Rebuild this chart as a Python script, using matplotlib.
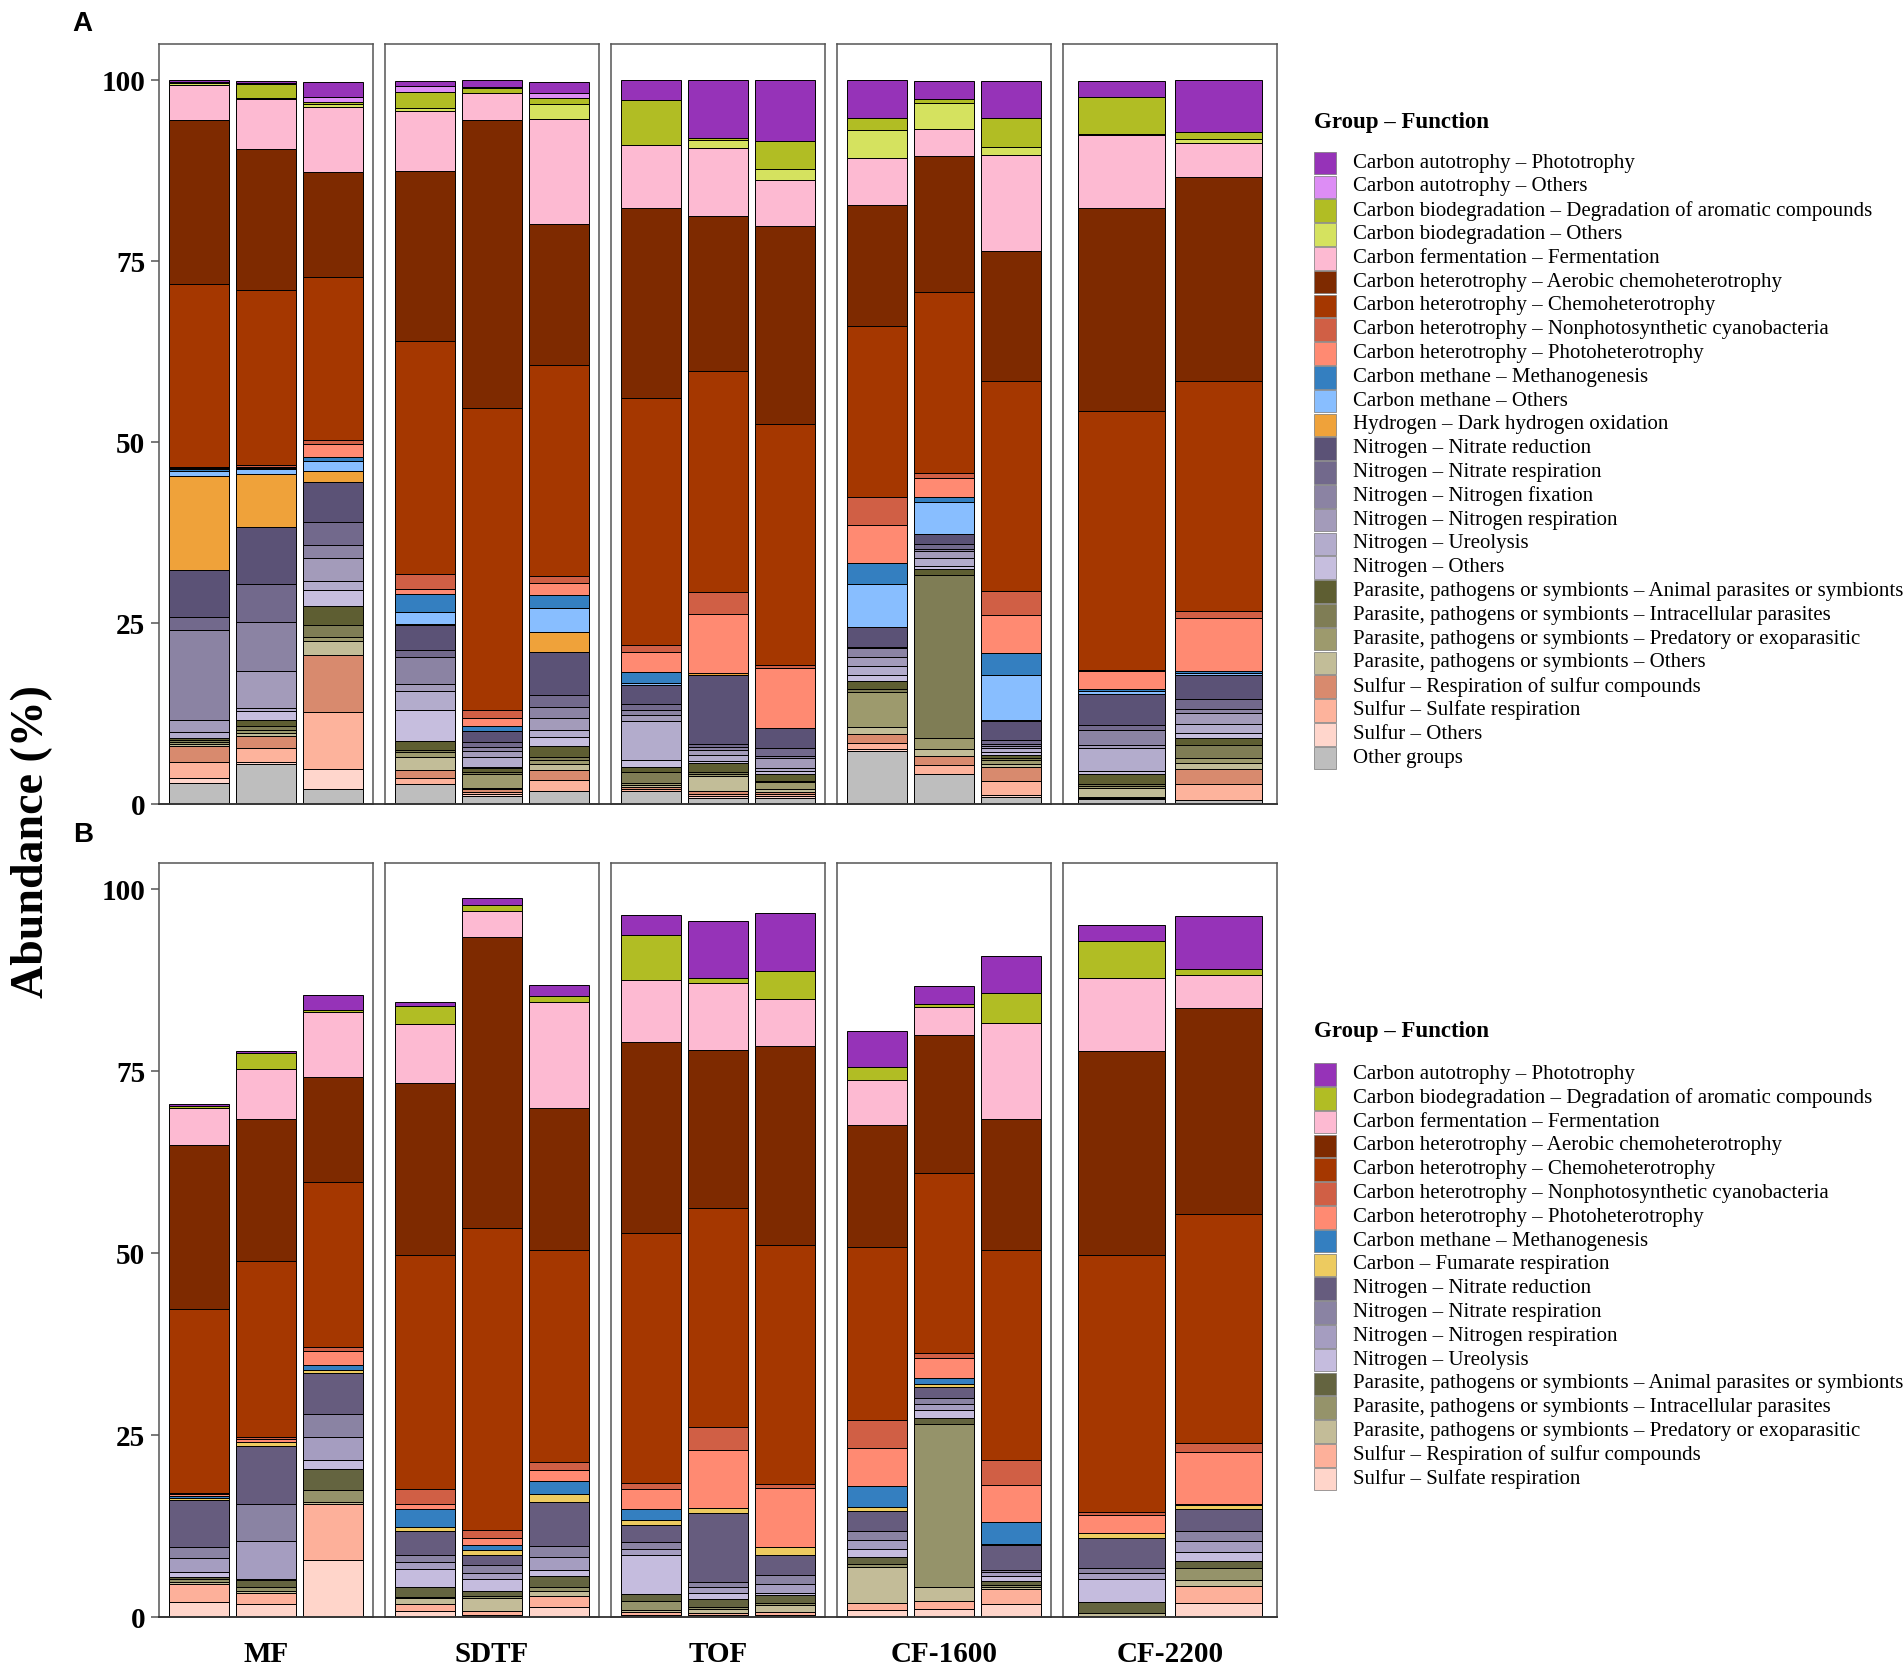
import matplotlib
matplotlib.use('Agg')
import matplotlib.pyplot as plt
from matplotlib.patches import Rectangle
from matplotlib.lines import Line2D
import numpy as np

plt.rcParams['font.family'] = ['Liberation Serif', 'DejaVu Serif']

groups = ['MF', 'SDTF', 'TOF', 'CF-1600', 'CF-2200']

labels_A = [
    "Carbon autotrophy – Phototrophy", "Carbon autotrophy – Others",
    "Carbon biodegradation – Degradation of aromatic compounds", "Carbon biodegradation – Others",
    "Carbon fermentation – Fermentation", "Carbon heterotrophy – Aerobic chemoheterotrophy",
    "Carbon heterotrophy – Chemoheterotrophy", "Carbon heterotrophy – Nonphotosynthetic cyanobacteria",
    "Carbon heterotrophy – Photoheterotrophy", "Carbon methane – Methanogenesis",
    "Carbon methane – Others", "Hydrogen – Dark hydrogen oxidation",
    "Nitrogen – Nitrate reduction", "Nitrogen – Nitrate respiration", "Nitrogen – Nitrogen fixation",
    "Nitrogen – Nitrogen respiration", "Nitrogen – Ureolysis", "Nitrogen – Others",
    "Parasite, pathogens or symbionts – Animal parasites or symbionts",
    "Parasite, pathogens or symbionts – Intracellular parasites",
    "Parasite, pathogens or symbionts – Predatory or exoparasitic",
    "Parasite, pathogens or symbionts – Others",
    "Sulfur – Respiration of sulfur compounds", "Sulfur – Sulfate respiration", "Sulfur – Others",
    "Other groups"]
colors_A = ['#9633B8', '#DD8DF5', '#B1BD24', '#D5E25F', '#FDBAD2', '#7E2A00', '#A53700', '#D05F45',
            '#FF8A72', '#347FC0', '#88BEFF', '#EFA23A', '#5B5276', '#72698C', '#8B83A3', '#A39BBA',
            '#B3ACCC', '#C6BEDE', '#5E5E32', '#7F7D55', '#9D9A6D', '#C2BD98', '#D88A6E', '#FDB39C',
            '#FFD6CC', '#BEBEBE']

labels_B = [
    "Carbon autotrophy – Phototrophy", "Carbon biodegradation – Degradation of aromatic compounds",
    "Carbon fermentation – Fermentation", "Carbon heterotrophy – Aerobic chemoheterotrophy",
    "Carbon heterotrophy – Chemoheterotrophy", "Carbon heterotrophy – Nonphotosynthetic cyanobacteria",
    "Carbon heterotrophy – Photoheterotrophy", "Carbon methane – Methanogenesis",
    "Carbon – Fumarate respiration", "Nitrogen – Nitrate reduction", "Nitrogen – Nitrate respiration",
    "Nitrogen – Nitrogen respiration", "Nitrogen – Ureolysis",
    "Parasite, pathogens or symbionts – Animal parasites or symbionts",
    "Parasite, pathogens or symbionts – Intracellular parasites",
    "Parasite, pathogens or symbionts – Predatory or exoparasitic",
    "Sulfur – Respiration of sulfur compounds", "Sulfur – Sulfate respiration"]
colors_B = ['#9633B8', '#B1BD24', '#FDBAD2', '#7E2A00', '#A53700', '#D05F45', '#FF8A72', '#347FC0',
            '#EDCB60', '#665C7E', '#8A83A3', '#A59DC0', '#C5BCDE', '#646440', '#95936A', '#C3BC98',
            '#FDB09A', '#FFD5CA']

# Panel A values (legend order, top of legend first)
A_MF1 = [0.2, 0, 0.2, 0.2, 4.9, 22.7, 25.2, 0.1, 0.2, 0.2, 0.8, 12.9, 6.5, 1.8, 12.4, 1.7, 0.8, 0, 0.3, 0.3, 0.3, 0.2, 2.3, 2.2, 0.7, 2.9]
A_MF2 = [0.3, 0.1, 2.0, 0.2, 6.8, 19.5, 24.2, 0.2, 0.2, 0.2, 0.6, 7.3, 7.9, 5.3, 6.7, 5.2, 0.3, 1.3, 0.9, 0.45, 0.45, 0.45, 1.6, 1.9, 0.3, 5.6]
A_MF3 = [2.0, 0.7, 0.3, 0.5, 8.9, 14.5, 22.6, 0.5, 1.8, 0.5, 1.4, 1.5, 5.6, 3.2, 1.7, 3.2, 1.25, 2.2, 2.7, 1.6, 0.5, 2.0, 7.8, 7.9, 2.8, 2.1]
A_SDTF1 = [0.7, 0.8, 2.3, 0.4, 8.3, 23.4, 32.3, 2.0, 0.7, 2.5, 1.6, 0.2, 3.4, 1.0, 3.7, 1.0, 2.6, 4.3, 1.3, 0.2, 0.7, 1.85, 1.0, 0.9, 0, 2.8]
A_SDTF2 = [0.9, 0.2, 0.7, 0, 3.7, 39.8, 41.7, 1.1, 1.15, 0.65, 0, 0, 1.5, 0.7, 0.6, 0.7, 1.4, 0.2, 0.6, 0.2, 2.0, 0.1, 0.4, 0.3, 0.2, 1.2]
A_SDTF3 = [1.55, 0.7, 0.8, 2.1, 14.5, 19.5, 29.1, 1.05, 1.6, 1.75, 3.3, 2.8, 5.9, 1.75, 1.5, 1.6, 1.0, 1.3, 1.5, 0.45, 0.55, 0.7, 1.5, 1.4, 0.1, 1.8]
A_TOF1 = [2.7, 0, 6.3, 0, 8.6, 26.3, 34.1, 0.9, 2.8, 1.5, 0.35, 0, 2.55, 0.9, 0.7, 0.8, 5.4, 0.9, 0.8, 1.4, 0.3, 0.3, 0.25, 0.3, 0, 1.85]
A_TOF2 = [7.9, 0, 0.4, 1.1, 9.3, 21.5, 30.5, 3.05, 8.05, 0, 0, 0.35, 9.5, 0.45, 0.45, 0.7, 0.8, 0.3, 1.2, 0.3, 0.2, 2.1, 0.45, 0.25, 0.3, 0.85]
A_TOF3 = [8.4, 0, 3.9, 1.45, 6.4, 27.3, 33.3, 0.45, 8.2, 0, 0, 0, 2.8, 1.15, 0.3, 1.3, 0.45, 0.45, 0.9, 0.2, 0.9, 0.45, 0.3, 0.3, 0.25, 0.85]
A_CF16_1 = [5.3, 0, 1.55, 4.0, 6.4, 16.7, 23.6, 3.9, 5.3, 2.9, 5.9, 0, 2.8, 0.1, 1.3, 1.15, 1.25, 0.85, 1.15, 0.45, 4.8, 1.0, 1.15, 0.9, 0.3, 7.3]
A_CF16_2 = [2.6, 0, 0.45, 3.6, 3.7, 18.9, 25.0, 0.65, 2.6, 0.7, 4.35, 0, 1.5, 0.7, 0.25, 0.9, 1.15, 0.35, 0.9, 22.5, 1.5, 1.0, 1.2, 1.25, 0, 4.2]
A_CF16_3 = [5.1, 0, 4.05, 1.1, 13.3, 17.9, 29.05, 3.3, 5.2, 3.1, 6.2, 0.2, 2.6, 0.5, 0.3, 0.3, 0.55, 0.35, 0.45, 0.35, 0.45, 0.4, 2.0, 1.85, 0.35, 1.0]
A_CF22_1 = [2.2, 0, 5.1, 0.25, 10.1, 28.0, 35.7, 0.25, 2.45, 0.3, 0.4, 0, 4.3, 0.6, 2.1, 0.45, 3.2, 0.3, 1.5, 0.25, 0.3, 1.2, 0.15, 0.15, 0, 0.7]
A_CF22_2 = [7.2, 0, 0.95, 0.55, 4.7, 28.2, 31.65, 1.0, 7.3, 0.35, 0.3, 0, 3.25, 1.4, 0.55, 1.45, 1.25, 0.7, 1.0, 1.75, 0.8, 0.8, 2.1, 2.2, 0, 0.55]

# Panel B values (legend order, top of legend first)
B_MF1 = [0.2, 0.3, 5.1, 22.6, 25.25, 0.15, 0.3, 0.2, 0.3, 6.4, 1.6, 1.9, 0.7, 0.25, 0.45, 0.3, 2.4, 2.1]
B_MF2 = [0.3, 2.2, 6.9, 19.5, 24.2, 0.25, 0.35, 0, 0.55, 8.0, 5.1, 5.15, 0.2, 0.9, 0.55, 0.3, 1.6, 1.75]
B_MF3 = [2.0, 0.3, 9.0, 14.4, 22.7, 0.5, 1.9, 0.7, 0.45, 5.7, 3.1, 3.2, 1.25, 2.8, 1.65, 0.3, 7.75, 7.8]
B_SDTF1 = [0.55, 2.5, 8.1, 23.6, 32.2, 2.05, 0.7, 2.5, 0.45, 3.35, 1.0, 0.9, 2.5, 1.35, 0.15, 0.8, 0.95, 0.9]
B_SDTF2 = [1.0, 0.8, 3.6, 39.9, 41.55, 1.05, 1.0, 0.7, 0.7, 1.4, 1.0, 0.9, 1.6, 0.75, 0.25, 1.8, 0.45, 0.35]
B_SDTF3 = [1.55, 0.7, 14.6, 19.6, 29.1, 1.05, 1.5, 1.8, 1.15, 6.0, 1.6, 1.7, 0.9, 1.5, 0.45, 0.8, 1.45, 1.4]
B_TOF1 = [2.7, 6.25, 8.5, 26.2, 34.4, 0.8, 2.75, 1.45, 0.7, 2.4, 0.9, 0.9, 5.35, 0.95, 1.25, 0.3, 0.35, 0.3]
B_TOF2 = [7.8, 0.7, 9.3, 21.65, 30.1, 3.2, 8.0, 0, 0.6, 9.55, 0.7, 0.85, 0.7, 1.2, 0.3, 0.5, 0.3, 0.25]
B_TOF3 = [7.95, 3.95, 6.4, 27.4, 32.8, 0.55, 8.1, 0, 1.15, 2.75, 1.2, 1.3, 0.2, 1.15, 0.25, 1.0, 0.35, 0.3]
B_CF16_1 = [5.05, 1.7, 6.25, 16.8, 23.65, 3.85, 5.3, 2.9, 0.45, 2.75, 1.3, 1.3, 1.05, 0.9, 0.45, 4.9, 1.05, 0.95]
B_CF16_2 = [2.6, 0.4, 3.85, 18.95, 24.75, 0.6, 2.75, 0.8, 0.45, 1.5, 0.8, 0.9, 1.05, 0.8, 22.45, 1.95, 1.15, 1.05]
B_CF16_3 = [5.1, 4.1, 13.3, 17.9, 28.95, 3.35, 5.15, 2.95, 0.2, 3.4, 0.35, 0.55, 0.7, 0.5, 0.3, 0.3, 1.95, 1.85]
B_CF22_1 = [2.25, 5.0, 10.05, 28.1, 35.25, 0.45, 2.4, 0, 0.7, 4.1, 0.8, 0.7, 3.2, 1.5, 0.1, 0.3, 0.1, 0.1]
B_CF22_2 = [7.2, 0.8, 4.6, 28.3, 31.5, 1.15, 7.15, 0.2, 0.5, 3.05, 1.45, 1.4, 1.3, 0.95, 1.7, 0.8, 2.25, 2.0]

samples_A = [[A_MF1, A_MF2, A_MF3], [A_SDTF1, A_SDTF2, A_SDTF3], [A_TOF1, A_TOF2, A_TOF3],
             [A_CF16_1, A_CF16_2, A_CF16_3], [A_CF22_1, A_CF22_2]]
samples_B = [[B_MF1, B_MF2, B_MF3], [B_SDTF1, B_SDTF2, B_SDTF3], [B_TOF1, B_TOF2, B_TOF3],
             [B_CF16_1, B_CF16_2, B_CF16_3], [B_CF22_1, B_CF22_2]]
yticks = [0, 25, 50, 75, 100]

W, H = 1565.0, 1370.0  # layout reference units
fig = plt.figure(figsize=(19.04, 16.67), dpi=100)

left = 131 / W
fw = 175.5 / W
gap = 10.2 / W


def draw_panel(y0, h, ytop, samples, colors):
    axes = []
    for gi, ss in enumerate(samples):
        ax = fig.add_axes([left + gi * (fw + gap), y0, fw, h])
        n = len(ss)
        vals = np.array(ss, dtype=float)
        x = np.arange(1, n + 1)
        bottom = np.zeros(n)
        for k in range(vals.shape[1] - 1, -1, -1):
            v = vals[:, k]
            lw = np.where(v > 0, 0.7, 0.0)
            ax.bar(x, v, 0.9, bottom=bottom, color=colors[k], edgecolor='black', linewidth=lw)
            bottom += v
        ax.set_xlim(0.4, n + 0.6)
        ax.set_ylim(0, ytop)
        ax.set_xticks([])
        for s in ax.spines.values():
            s.set_color('#555555')
            s.set_linewidth(1.1)
        if gi == 0:
            ax.set_yticks(yticks)
            ax.set_yticklabels([str(t) for t in yticks], fontsize=21, fontweight='bold')
            ax.tick_params(axis='y', length=6, width=1.1, color='#555555', pad=4)
        else:
            ax.set_yticks([])
        axes.append(ax)
    fig.add_artist(Line2D([left, left + 5 * fw + 4 * gap], [y0, y0], transform=fig.transFigure,
                          color='#333333', lw=1.3))
    return axes


yA0 = 1 - 661 / H
hA = 105 * 5.95 / H
yB0 = 1 - 1329 / H
hB = 103.7 * 5.98 / H
draw_panel(yA0, hA, 105, samples_A, colors_A)
draw_panel(yB0, hB, 103.7, samples_B, colors_B)

for gi, g in enumerate(groups):
    fig.text(left + gi * (fw + gap) + fw / 2, 1 - 1360 / H, g, ha='center', va='center',
             fontsize=21, fontweight='bold')

fig.text(68 / W, 1 - 20 / H, 'A', fontsize=20, fontweight='bold', family='Liberation Sans',
         ha='center', va='center')
fig.text(68 / W, 1 - 686 / H, 'B', fontsize=20, fontweight='bold', family='Liberation Sans',
         ha='center', va='center')
fig.text(26 / W, 1 - 692 / H, 'Abundance (%)', fontsize=33, fontweight='bold', rotation=90,
         ha='center', va='center')


def draw_legend(title_y, first_y, labels, colors):
    fig.text(1080 / W, 1 - title_y / H, 'Group – Function', fontsize=16.5, fontweight='bold',
             ha='left', va='center')
    step = 19.56
    kh = 18.6
    for i, (lab, col) in enumerate(zip(labels, colors)):
        cy = first_y + i * step
        fig.add_artist(Rectangle((1080 / W, 1 - (cy + kh / 2) / H), 18 / W, kh / H,
                                 transform=fig.transFigure, facecolor=col, edgecolor='#777777',
                                 linewidth=0.5))
        fig.text(1112 / W, 1 - cy / H, lab, fontsize=15, ha='left', va='center')


draw_legend(101, 134, labels_A, colors_A)
draw_legend(848, 883, labels_B, colors_B)

fig.savefig('out.png', dpi=100, facecolor='white')
